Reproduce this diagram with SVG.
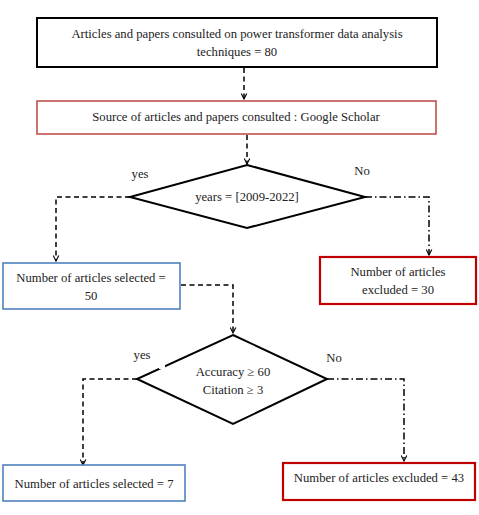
<svg xmlns="http://www.w3.org/2000/svg" width="479" height="515" viewBox="0 0 479 515">
<defs>
<marker id="arr" viewBox="0 0 10 10" refX="9" refY="5" markerWidth="7" markerHeight="7" markerUnits="userSpaceOnUse" orient="auto">
<path d="M1,1 L9,5 L1,9" fill="none" stroke="#000" stroke-width="1.6"/>
</marker>
</defs>
<style>
text{font-family:"Liberation Serif","Times New Roman",serif;font-size:12.7px;fill:#222;text-anchor:middle}
.box{fill:#fff}
.blk{stroke:#000;stroke-width:2}
.red1{stroke:#c0504d;stroke-width:1.6}
.red2{stroke:#c00000;stroke-width:2.2}
.blue{stroke:#4f81bd;stroke-width:1.6}
.dia{fill:#fff;stroke:#000;stroke-width:2}
.dash{fill:none;stroke:#000;stroke-width:1.5;stroke-dasharray:5,3.5}
.dd{fill:none;stroke:#000;stroke-width:1.5;stroke-dasharray:7,3,1.5,3}
</style>
<rect width="479" height="515" fill="#fff"/>
<g id="connectors">
<path class="dash" d="M244,68 V99" marker-end="url(#arr)"/>
<path class="dash" d="M247,135 V164" marker-end="url(#arr)"/>
<path class="dash" d="M130,197 H56 V261" marker-end="url(#arr)"/>
<path class="dd" d="M365,197 H429 V255" marker-end="url(#arr)"/>
<path class="dash" d="M181,285 H233 V333" marker-end="url(#arr)"/>
<path class="dash" d="M137,379 H83 V465" marker-end="url(#arr)"/>
<path class="dd" d="M327,379 H404 V461" marker-end="url(#arr)"/>
</g>
<g id="n1">
<rect class="box blk" x="37" y="18" width="400" height="49"/>
<text x="237" y="38">Articles and papers consulted on power transformer data analysis</text>
<text x="237" y="56">techniques = 80</text>
</g>
<g id="n2">
<rect class="box red1" x="37" y="101" width="399" height="33"/>
<text x="236" y="121">Source of articles and papers consulted : Google Scholar</text>
</g>
<g id="d1">
<polygon class="dia" points="247,165 365,197 247,228 130,197"/>
<text x="247" y="201">years = [2009-2022]</text>
</g>
<text x="140" y="178">yes</text>
<text x="362" y="175">No</text>
<g id="n3">
<rect class="box blue" x="3" y="263" width="177" height="46"/>
<text x="91" y="282">Number of articles selected =</text>
<text x="91" y="300">50</text>
</g>
<g id="n4">
<rect class="box red2" x="320" y="257" width="156" height="47"/>
<text x="398" y="276">Number of articles</text>
<text x="398" y="294">excluded = 30</text>
</g>
<g id="d2">
<polygon class="dia" points="233,335 327,379 233,424 137,379"/>
<rect x="159" y="364" width="6" height="5" fill="#fff"/>
<text x="233" y="376">Accuracy ≥ 60</text>
<text x="233" y="394">Citation ≥ 3</text>
</g>
<text x="142" y="359">yes</text>
<text x="334" y="362">No</text>
<g id="n5">
<rect class="box blue" x="3" y="465" width="182" height="36"/>
<text x="94" y="488">Number of articles selected = 7</text>
</g>
<g id="n6">
<rect class="box red2" x="283" y="463" width="192" height="37"/>
<text x="379" y="482">Number of articles excluded = 43</text>
</g>
</svg>
